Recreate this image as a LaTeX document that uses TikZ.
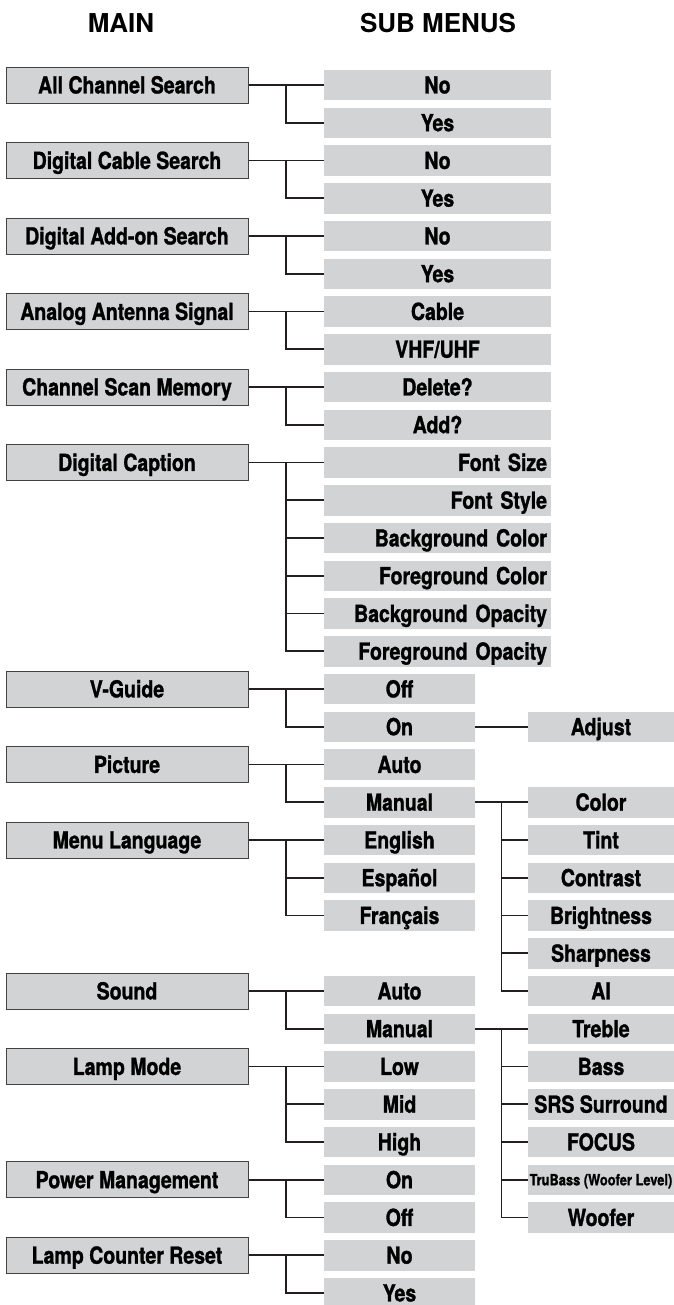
\documentclass[tikz,border=0pt]{standalone}
\usepackage{fontspec}
\setmainfont{TeX Gyre Heros}
\newfontfamily\cnfont{TeX Gyre Heros}[FakeStretch=0.83,FakeBold=1.2]
\usetikzlibrary{calc}
\definecolor{boxgray}{HTML}{D1D3D4}
\definecolor{ink}{HTML}{231F20}
\tikzset{
  box/.style={fill=boxgray, inner sep=0pt, text height=16.9pt, text depth=0pt,
    font=\cnfont\bfseries\fontsize{23.5}{26}\selectfont},
  mainbox/.style={box, draw=ink!85, line width=1pt, minimum width=242pt, minimum height=36pt},
  widebox/.style={box, minimum width=227pt, minimum height=30.5pt},
  rightbox/.style={widebox, text width=219pt, align=right},
  narrowbox/.style={box, minimum width=151pt, minimum height=30.5pt},
  endbox/.style={box, minimum width=146pt, minimum height=30.5pt},
  title/.style={inner sep=0pt, text height=18.7pt, text depth=0pt,
    font=\bfseries\fontsize{26}{30}\selectfont},
  link/.style={draw=ink, line width=1.8pt}
}
\begin{document}
\begin{tikzpicture}[x=1pt,y=-37.75pt]
\useasboundingbox (0,-2.2517) rectangle (674,32.318);
\node[title] (hmain) at (121,-1.642) {MAIN};
\node[title] (hsub) at (438,-1.642) {SUB MENUS};
% main column
\node[mainbox] (acs) at (127,0) {All Channel Search};
\node[mainbox] (dcs) at (127,2) {Digital Cable Search};
\node[mainbox] (das) at (127,4) {Digital Add-on Search};
\node[mainbox] (aas) at (127,6) {Analog Antenna Signal};
\node[mainbox] (csm) at (127,8) {Channel Scan Memory};
\node[mainbox] (dcap) at (127,10) {Digital Caption};
\node[mainbox] (vg) at (127,16) {V-Guide};
\node[mainbox] (pic) at (127,18) {Picture};
\node[mainbox] (lang) at (127,20) {Menu Language};
\node[mainbox] (snd) at (127,24) {Sound};
\node[mainbox] (lamp) at (127,26) {Lamp Mode};
\node[mainbox] (pwr) at (127,29) {Power Management};
\node[mainbox] (lcr) at (127,31) {Lamp Counter Reset};
% sub menus
\node[widebox] (acs-no) at (437.5,0) {No};
\node[widebox] (acs-yes) at (437.5,1) {Yes};
\node[widebox] (dcs-no) at (437.5,2) {No};
\node[widebox] (dcs-yes) at (437.5,3) {Yes};
\node[widebox] (das-no) at (437.5,4) {No};
\node[widebox] (das-yes) at (437.5,5) {Yes};
\node[widebox] (aas-cab) at (437.5,6) {Cable};
\node[widebox] (aas-vhf) at (437.5,7) {VHF/UHF};
\node[widebox] (csm-del) at (437.5,8) {Delete?};
\node[widebox] (csm-add) at (437.5,9) {Add?};
\node[rightbox] (dcap-fsz) at (437.5,10) {Font Size};
\node[rightbox] (dcap-fst) at (437.5,11) {Font Style};
\node[rightbox] (dcap-bgc) at (437.5,12) {Background Color};
\node[rightbox] (dcap-fgc) at (437.5,13) {Foreground Color};
\node[rightbox] (dcap-bgo) at (437.5,14) {Background Opacity};
\node[rightbox] (dcap-fgo) at (437.5,15) {Foreground Opacity};
\node[narrowbox] (vg-off) at (399.5,16) {Off};
\node[narrowbox] (vg-on) at (399.5,17) {On};
\node[narrowbox] (pic-auto) at (399.5,18) {Auto};
\node[narrowbox] (pic-man) at (399.5,19) {Manual};
\node[narrowbox] (lang-en) at (399.5,20) {English};
\node[narrowbox] (lang-es) at (399.5,21) {Español};
\node[narrowbox] (lang-fr) at (399.5,22) {Français};
\node[narrowbox] (snd-auto) at (399.5,24) {Auto};
\node[narrowbox] (snd-man) at (399.5,25) {Manual};
\node[narrowbox] (lamp-low) at (399.5,26) {Low};
\node[narrowbox] (lamp-mid) at (399.5,27) {Mid};
\node[narrowbox] (lamp-high) at (399.5,28) {High};
\node[narrowbox] (pwr-on) at (399.5,29) {On};
\node[narrowbox] (pwr-off) at (399.5,30) {Off};
\node[narrowbox] (lcr-no) at (399.5,31) {No};
\node[narrowbox] (lcr-yes) at (399.5,32) {Yes};
% third level
\node[endbox] (vg-adj) at (601,17) {Adjust};
\node[endbox] (pic-col) at (601,19) {Color};
\node[endbox] (pic-tint) at (601,20) {Tint};
\node[endbox] (pic-con) at (601,21) {Contrast};
\node[endbox] (pic-bri) at (601,22) {Brightness};
\node[endbox] (pic-sha) at (601,23) {Sharpness};
\node[endbox] (pic-ai) at (601,24) {AI};
\node[endbox] (snd-tre) at (601,25) {Treble};
\node[endbox] (snd-bas) at (601,26) {Bass};
\node[endbox] (snd-srs) at (601,27) {SRS Surround};
\node[endbox] (snd-foc) at (601,28) {FOCUS};
\node[endbox, text height=11.2pt, font=\cnfont\bfseries\fontsize{15.5}{18}\selectfont] (snd-tru) at (601,29) {TruBass (Woofer Level)};
\node[endbox] (snd-woo) at (601,30) {Woofer};
% branch points
\coordinate (acs-j) at ($(acs.east)!.5!(acs-no.west)$);
\coordinate (dcs-j) at ($(dcs.east)!.5!(dcs-no.west)$);
\coordinate (das-j) at ($(das.east)!.5!(das-no.west)$);
\coordinate (aas-j) at ($(aas.east)!.5!(aas-cab.west)$);
\coordinate (csm-j) at ($(csm.east)!.5!(csm-del.west)$);
\coordinate (dcap-j) at ($(dcap.east)!.5!(dcap-fsz.west)$);
\coordinate (vg-j) at ($(vg.east)!.5!(vg-off.west)$);
\coordinate (pic-j) at ($(pic.east)!.5!(pic-auto.west)$);
\coordinate (lang-j) at ($(lang.east)!.5!(lang-en.west)$);
\coordinate (snd-j) at ($(snd.east)!.5!(snd-auto.west)$);
\coordinate (lamp-j) at ($(lamp.east)!.5!(lamp-low.west)$);
\coordinate (pwr-j) at ($(pwr.east)!.5!(pwr-on.west)$);
\coordinate (lcr-j) at ($(lcr.east)!.5!(lcr-no.west)$);
\coordinate (pic-k) at ($(pic-man.east)!.5!(pic-col.west)$);
\coordinate (snd-k) at ($(snd-man.east)!.5!(snd-tre.west)$);
% connectors
\draw[link] (acs) -- (acs-no) (acs-j) |- (acs-yes);
\draw[link] (dcs) -- (dcs-no) (dcs-j) |- (dcs-yes);
\draw[link] (das) -- (das-no) (das-j) |- (das-yes);
\draw[link] (aas) -- (aas-cab) (aas-j) |- (aas-vhf);
\draw[link] (csm) -- (csm-del) (csm-j) |- (csm-add);
\draw[link] (dcap) -- (dcap-fsz) (dcap-j) |- (dcap-fst) (dcap-j) |- (dcap-bgc)
  (dcap-j) |- (dcap-fgc) (dcap-j) |- (dcap-bgo) (dcap-j) |- (dcap-fgo);
\draw[link] (vg) -- (vg-off) (vg-j) |- (vg-on);
\draw[link] (vg-on) -- (vg-adj);
\draw[link] (pic) -- (pic-auto) (pic-j) |- (pic-man);
\draw[link] (pic-man) -- (pic-col) (pic-k) |- (pic-tint) (pic-k) |- (pic-con)
  (pic-k) |- (pic-bri) (pic-k) |- (pic-sha) (pic-k) |- (pic-ai);
\draw[link] (lang) -- (lang-en) (lang-j) |- (lang-es) (lang-j) |- (lang-fr);
\draw[link] (snd) -- (snd-auto) (snd-j) |- (snd-man);
\draw[link] (snd-man) -- (snd-tre) (snd-k) |- (snd-bas) (snd-k) |- (snd-srs)
  (snd-k) |- (snd-foc) (snd-k) |- (snd-tru) (snd-k) |- (snd-woo);
\draw[link] (lamp) -- (lamp-low) (lamp-j) |- (lamp-mid) (lamp-j) |- (lamp-high);
\draw[link] (pwr) -- (pwr-on) (pwr-j) |- (pwr-off);
\draw[link] (lcr) -- (lcr-no) (lcr-j) |- (lcr-yes);
\end{tikzpicture}
\end{document}
